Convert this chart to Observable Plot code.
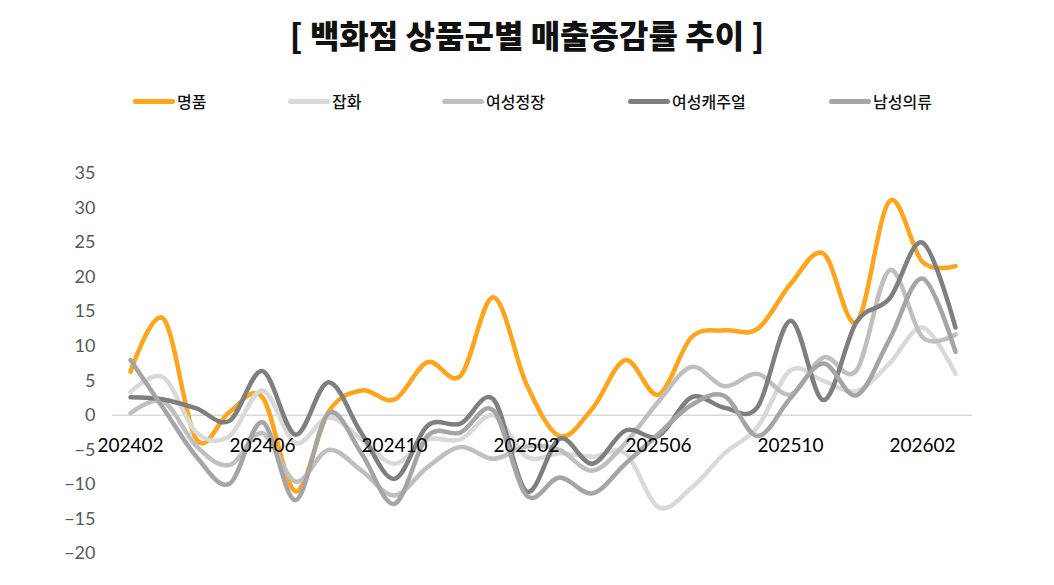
<!DOCTYPE html>
<html>
<head>
<meta charset="utf-8">
<script src="https://cdn.jsdelivr.net/npm/d3@7"></script>
<script src="https://cdn.jsdelivr.net/npm/@observablehq/plot@0.6"></script>
<style>
  html, body { margin: 0; padding: 0; background: #fff; }
  #wrap { position: relative; width: 1054px; height: 585px; overflow: hidden; }
  #title { position: absolute; top: 12px; left: 0; width: 1054px; text-align: center;
    font-family: "Noto Sans CJK KR", sans-serif; font-weight: 900; font-size: 32px; line-height: 44px; color: #111; }
  .leg { position: absolute; top: 91px; height: 20px; display: flex; align-items: center;
    font-family: "Noto Sans CJK KR", sans-serif; font-weight: 500; font-size: 16px; color: #111; }
  .sw { width: 42px; height: 5px; border-radius: 3px; margin-right: 2px; }
  #chart { position: absolute; top: 150px; left: 0; }
</style>
</head>
<body>
<div id="wrap">
  <div id="title">[ 백화점 상품군별 매출증감률 추이 ]</div>
  <div id="legend"></div>
  <div id="chart"></div>
</div>
<script>
const months = ["202402","202403","202404","202405","202406","202407","202408","202409","202410","202411","202412","202501","202502","202503","202504","202505","202506","202507","202508","202509","202510","202511","202512","202601","202602","202603"];
const xTickLabels = ["202402","202406","202410","202502","202506","202510","202602"];
const yTicks = [-20,-15,-10,-5,0,5,10,15,20,25,30,35];

const seriesNames = ["명품","잡화","여성정장","여성캐주얼","남성의류"];
const seriesColors = ["#ffa41b","#d9d9d9","#bfbfbf","#7f7f7f","#a5a5a5"];

const luxury      = [6.3, 14, -3.5, 0.5, 2.6, -11, 0.5, 3.6, 2.3, 7.7, 5.7, 17.1, 4.5, -3, 1, 8, 3, 11.3, 12.3, 12.5, 19, 23.4, 13.5, 31, 22.2, 21.6];
const goods       = [3.4, 5.5, -2.5, -3, 3.6, -4, -0.3, -3.5, -7, -3.5, -3.5, 0, -6, -5.5, -6, -5.5, -13.3, -10.5, -5.5, -1.7, 6.5, 5, 3.5, 7.5, 12.7, 6];
const womenFormal = [0.3, 2, -4.5, -7.2, -2.6, -9.6, -5, -8, -11.6, -7.5, -4.6, -6.3, -4.5, -5, -8, -4, 2, 7, 4.2, 6, 3, 8.4, 6.5, 21, 11.3, 11.7];
const womenCasual = [2.6, 2.3, 1.0, -0.8, 6.4, -2.8, 4.8, -2.6, -9.2, -1.5, -1.2, 2.3, -11, -3.4, -7, -2.2, -3, 2.6, 1.1, 1.2, 13.7, 2.2, 13.5, 16.9, 25, 12.7];
const menswear    = [8, 1, -6, -9.9, -1, -12.3, 0.3, -5.5, -12.8, -3, -2.5, 0.7, -11.6, -9, -11.3, -7, -2.7, 1.5, 2.8, -3, 2.5, 7.5, 2.9, 11, 19.8, 9.2];

const seriesValues = [luxury, goods, womenFormal, womenCasual, menswear];

// legend
const legendLeft = [133, 288, 442, 628, 829];
const legend = document.getElementById("legend");
seriesNames.forEach((name, i) => {
  const item = document.createElement("div");
  item.className = "leg";
  item.style.left = legendLeft[i] + "px";
  item.innerHTML = `<div class="sw" style="background:${seriesColors[i]}"></div><span>${name}</span>`;
  legend.appendChild(item);
});

const lineMarks = seriesValues.map((vals, i) =>
  Plot.line(months.map((m, j) => ({month: m, value: vals[j]})), {
    x: "month", y: "value", stroke: seriesColors[i], strokeWidth: 4.5,
    curve: "cardinal", strokeLinecap: "round", strokeLinejoin: "round"
  })
);

const chart = Plot.plot({
  width: 1054,
  height: 430,
  marginTop: 23,
  marginBottom: 27,
  marginLeft: 112,
  marginRight: 82,
  style: {fontFamily: "Lato, 'Noto Sans', sans-serif", background: "transparent"},
  x: {type: "point", domain: months, padding: 0.5, axis: null},
  y: {domain: [-20, 35], axis: null},
  marks: [
    Plot.ruleY([0], {stroke: "#d9d9d9", strokeWidth: 1.5}),
    ...lineMarks,
    Plot.axisY({ticks: yTicks, tickSize: 0, tickPadding: 17, fontSize: 18, color: "#595959", label: null}),
    Plot.text(xTickLabels, {x: d => d, y: 0, dy: 31, fontSize: 19, fill: "#000"})
  ]
});
document.getElementById("chart").appendChild(chart);
</script>
</body>
</html>
